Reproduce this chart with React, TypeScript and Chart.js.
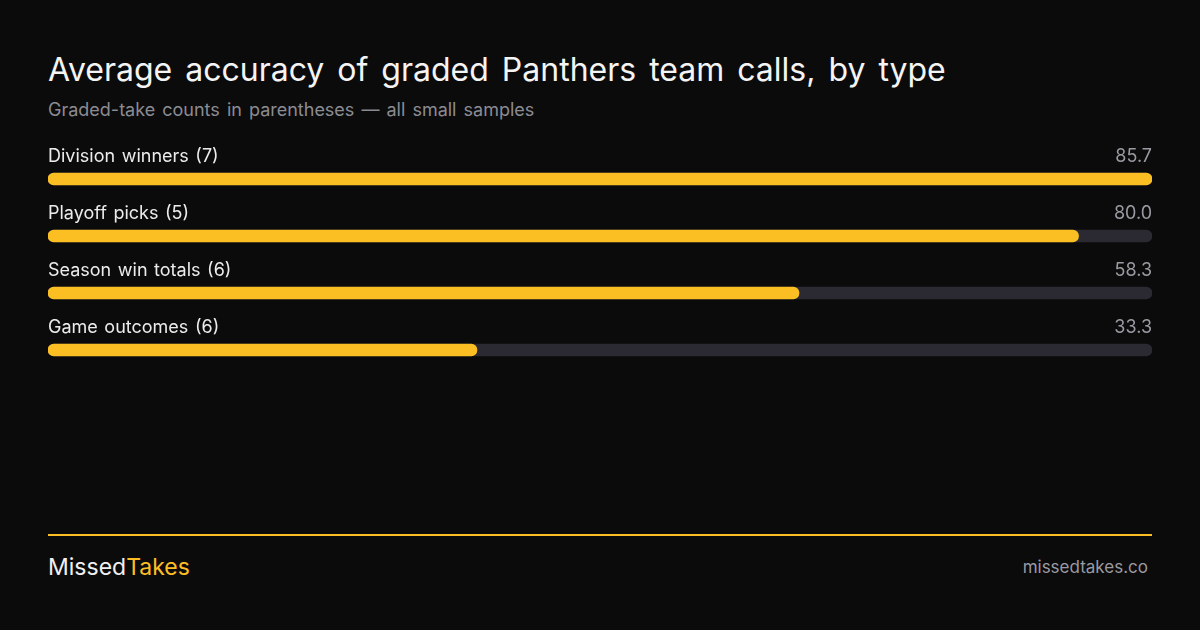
import {useEffect, useRef} from "react";
import {Chart, registerables} from "chart.js";

Chart.register(...registerables)

const categories = ["Division winners (7)", "Playoff picks (5)", "Season win totals (6)", "Game outcomes (6)"]
const accuracy = [85.7, 80.0, 58.3, 33.3]
const scaleMax = 85.7

const FONT = "Inter, 'Noto Sans', sans-serif"

const barLabels = {
  id: "barLabels",
  afterDatasetsDraw(chart: Chart) {
    const {ctx, chartArea} = chart
    const meta = chart.getDatasetMeta(0)
    ctx.save()
    ctx.font = `400 18px ${FONT}`
    ;(ctx as any).wordSpacing = "1.5px"
    ctx.textBaseline = "alphabetic"
    meta.data.forEach((bar: any, i: number) => {
      const y = bar.y - 17
      ctx.fillStyle = "#ececec"
      ctx.textAlign = "left"
      ctx.fillText(categories[i], chartArea.left, y)
      ctx.fillStyle = "#9a9aa2"
      ctx.textAlign = "right"
      ctx.fillText(accuracy[i].toFixed(1), chartArea.right, y)
    })
    ctx.restore()
  }
}

export default () => {
  const canvas = useRef<HTMLCanvasElement>(null)

  useEffect(() => {
    document.body.style.margin = "0"
    const chart = new Chart(canvas.current!, {
      type: "bar",
      data: {
        labels: categories,
        datasets: [
          {
            data: accuracy,
            backgroundColor: "#fbbf24",
            borderRadius: 6,
            borderSkipped: false,
            barThickness: 12,
            grouped: false,
            order: 0,
          },
          {
            data: accuracy.map(() => scaleMax),
            backgroundColor: "#2b2931",
            borderRadius: 6,
            borderSkipped: false,
            barThickness: 12,
            grouped: false,
            order: 1,
          },
        ]
      },
      options: {
        indexAxis: "y",
        animation: false,
        responsive: true,
        maintainAspectRatio: false,
        layout: {padding: {top: 20.5, bottom: 21.5, left: 0, right: 0}},
        scales: {
          x: {display: false, min: 0, max: scaleMax},
          y: {display: false},
        },
        plugins: {
          legend: {display: false},
          tooltip: {enabled: false},
        },
      },
      plugins: [barLabels],
    })
    return () => {
      chart.destroy()
    }
  }, [])

  return (
    <div style={{position: "relative", width: 1200, height: 630, background: "#0b0b0b", fontFamily: FONT, overflow: "hidden"}}>
      <div style={{position: "absolute", left: 48, top: 51, fontSize: 32, lineHeight: "38px", color: "#f4f4f4", wordSpacing: 4, whiteSpace: "nowrap"}}>
        Average accuracy of graded Panthers team calls, by type
      </div>
      <div style={{position: "absolute", left: 48, top: 99, fontSize: 18, lineHeight: "22px", color: "#8b8b93", wordSpacing: 2, whiteSpace: "nowrap"}}>
        Graded-take counts in parentheses — all small samples
      </div>
      <div style={{position: "absolute", left: 48, top: 130, width: 1104, height: 270}}>
        <canvas ref={canvas}></canvas>
      </div>
      <div style={{position: "absolute", left: 48, top: 534, width: 1104, height: 2, background: "#fbbf24"}}></div>
      <div style={{position: "absolute", left: 48, top: 553, fontSize: 23, lineHeight: "28px", color: "#f0f0f0", whiteSpace: "nowrap"}}>
        Missed<span style={{color: "#fbbf24"}}>Takes</span>
      </div>
      <div style={{position: "absolute", right: 52, top: 556, fontSize: 17, lineHeight: "22px", color: "#9a9aa2", whiteSpace: "nowrap"}}>
        missedtakes.co
      </div>
    </div>
  )
}
